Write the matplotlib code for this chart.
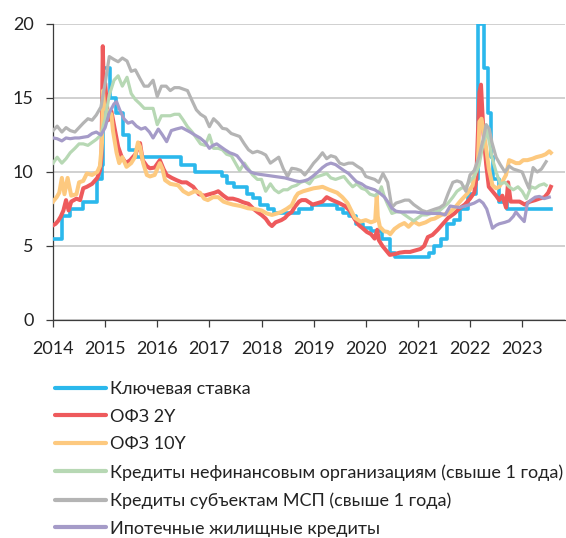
import datetime as dt
import numpy as np
import matplotlib
matplotlib.use("Agg")
import matplotlib.pyplot as plt
from matplotlib.lines import Line2D

plt.rcParams['font.family'] = ['Lato', 'DejaVu Sans']

# ---------------- data ----------------
key_dates = ["2014-01-01", "2014-03-03", "2014-04-28", "2014-07-28", "2014-11-05", "2014-12-12",
             "2014-12-16", "2015-02-02", "2015-03-16", "2015-05-05", "2015-06-16", "2015-08-03",
             "2016-06-14", "2016-09-19", "2017-03-27", "2017-05-02", "2017-06-19", "2017-09-18",
             "2017-10-30", "2017-12-18", "2018-02-12", "2018-03-26", "2018-09-17", "2018-12-17",
             "2019-06-17", "2019-07-29", "2019-09-09", "2019-10-28", "2019-12-16", "2020-02-10",
             "2020-04-27", "2020-06-22", "2020-07-27", "2021-03-22", "2021-04-26", "2021-06-15",
             "2021-07-26", "2021-09-13", "2021-10-25", "2021-12-20", "2022-02-14", "2022-02-28",
             "2022-04-11", "2022-05-04", "2022-05-27", "2022-06-14", "2022-07-25", "2022-09-19",
             "2023-07-20"]
key_rate = [5.5, 7.0, 7.5, 8.0, 9.5, 10.5, 17.0, 15.0, 14.0, 12.5, 11.5, 11.0,
            10.5, 10.0, 9.75, 9.25, 9.0, 8.5, 8.25, 7.75, 7.5, 7.25, 7.5, 7.75,
            7.5, 7.25, 7.0, 6.5, 6.25, 6.0, 5.5, 4.5, 4.25, 4.5, 5.0, 5.5,
            6.5, 6.75, 7.5, 8.5, 9.5, 20.0, 17.0, 14.0, 11.0, 9.5, 8.0, 7.5, 7.5]

ofz2_t = [2014.00, 2014.05, 2014.10, 2014.15, 2014.20, 2014.25, 2014.30, 2014.35, 2014.45, 2014.52,
          2014.58, 2014.65, 2014.75, 2014.85, 2014.90, 2014.93, 2014.955, 2014.965, 2014.98, 2015.00,
          2015.06, 2015.12, 2015.19, 2015.25, 2015.32, 2015.40, 2015.48, 2015.58, 2015.67, 2015.72,
          2015.80, 2015.86, 2015.95, 2016.05, 2016.12, 2016.18, 2016.28, 2016.37, 2016.47, 2016.56,
          2016.69, 2016.80, 2016.90, 2017.00, 2017.10, 2017.17, 2017.27, 2017.35, 2017.45, 2017.55,
          2017.65, 2017.75, 2017.85, 2017.92, 2018.00, 2018.08, 2018.15, 2018.20, 2018.27, 2018.38,
          2018.45, 2018.50, 2018.58, 2018.64, 2018.72, 2018.77, 2018.85, 2018.98, 2019.08, 2019.17,
          2019.25, 2019.36, 2019.49, 2019.60, 2019.69, 2019.79, 2019.87, 2019.94, 2020.02, 2020.10,
          2020.17, 2020.22, 2020.25, 2020.32, 2020.39, 2020.46, 2020.55, 2020.65, 2020.75, 2020.85,
          2020.95, 2021.05, 2021.12, 2021.19, 2021.28, 2021.38, 2021.48, 2021.58, 2021.70, 2021.80,
          2021.90, 2022.00, 2022.08, 2022.12, 2022.15, 2022.18, 2022.21, 2022.23, 2022.26, 2022.31,
          2022.36, 2022.43, 2022.50, 2022.56, 2022.62, 2022.69, 2022.73, 2022.78, 2022.88, 2022.95,
          2023.05, 2023.15, 2023.25, 2023.33, 2023.43, 2023.50, 2023.55]
ofz2_v = [6.4, 6.5, 6.7, 7.0, 7.4, 8.1, 7.4, 8.0, 8.2, 8.1,
          8.9, 9.0, 9.2, 9.6, 10.1, 11.0, 18.5, 17.0, 14.5, 16.0,
          13.5, 14.1, 12.8, 11.7, 11.0, 10.6, 10.8, 11.2, 11.95, 10.8,
          10.4, 10.25, 10.3, 10.8, 10.2, 9.8, 9.6, 9.45, 9.3, 9.3,
          9.0, 8.5, 8.4, 8.5, 8.6, 8.7, 8.4, 8.2, 8.2, 8.1,
          7.95, 7.85, 7.5, 7.3, 7.1, 6.85, 6.5, 6.35, 6.6, 6.75,
          6.9, 7.1, 7.3, 7.65, 8.0, 8.1, 8.1, 7.8, 7.9, 8.0,
          8.3, 8.1, 7.9, 7.7, 7.4, 6.8, 6.4, 6.2, 5.95, 5.8,
          5.5, 6.1, 5.4, 5.0, 4.7, 4.4, 4.45, 4.55, 4.6, 4.6,
          4.7, 4.8, 5.0, 5.6, 5.75, 6.1, 6.5, 6.9, 7.2, 7.55,
          7.8, 8.2, 8.6, 9.5, 12.5, 15.4, 15.9, 14.5, 12.5, 10.5,
          9.0, 8.7, 8.4, 8.1, 8.4, 7.6, 9.3, 8.0, 8.0, 8.0,
          7.8, 8.0, 8.1, 8.2, 8.3, 8.6, 9.0]

ofz10_t = [2014.00, 2014.07, 2014.12, 2014.17, 2014.22, 2014.28, 2014.35, 2014.45, 2014.50, 2014.58,
           2014.65, 2014.75, 2014.85, 2014.90, 2014.94, 2014.96, 2014.98, 2015.03, 2015.09, 2015.12,
           2015.15, 2015.22, 2015.27, 2015.33, 2015.41, 2015.50, 2015.57, 2015.63, 2015.67, 2015.73,
           2015.80, 2015.86, 2015.95, 2016.05, 2016.10, 2016.15, 2016.25, 2016.40, 2016.50, 2016.60,
           2016.72, 2016.82, 2016.90, 2016.97, 2017.07, 2017.17, 2017.27, 2017.35, 2017.45, 2017.60,
           2017.74, 2017.87, 2018.00, 2018.10, 2018.20, 2018.30, 2018.38, 2018.48, 2018.58, 2018.65,
           2018.70, 2018.80, 2018.90, 2019.00, 2019.10, 2019.17, 2019.30, 2019.45, 2019.55, 2019.65,
           2019.72, 2019.79, 2019.90, 2020.00, 2020.10, 2020.18, 2020.21, 2020.23, 2020.27, 2020.35,
           2020.42, 2020.47, 2020.55, 2020.65, 2020.74, 2020.82, 2020.92, 2021.02, 2021.15, 2021.25,
           2021.32, 2021.45, 2021.58, 2021.70, 2021.83, 2021.95, 2022.05, 2022.10, 2022.15, 2022.18,
           2022.22, 2022.27, 2022.31, 2022.36, 2022.43, 2022.50, 2022.56, 2022.62, 2022.69, 2022.75,
           2022.82, 2022.88, 2022.95, 2023.02, 2023.10, 2023.20, 2023.27, 2023.38, 2023.45, 2023.52,
           2023.55]
ofz10_v = [8.0, 8.3, 8.6, 9.6, 8.5, 9.6, 8.4, 8.5, 9.3, 9.4,
           9.9, 9.8, 10.0, 10.4, 12.0, 15.5, 14.5, 14.2, 14.0, 13.9,
           12.8, 11.3, 10.6, 11.0, 10.35, 10.6, 11.0, 12.0, 11.7, 10.6,
           9.8, 9.7, 9.8, 10.6, 10.2, 9.45, 9.2, 9.1, 8.7, 8.5,
           8.7, 8.6, 8.2, 8.1, 8.3, 8.3, 8.0, 7.9, 7.8, 7.7,
           7.55, 7.5, 7.4, 7.2, 7.1, 7.2, 7.3, 7.5, 7.75, 8.3,
           8.55, 8.7, 8.8, 8.9, 8.95, 9.0, 8.8, 8.6, 8.3, 7.9,
           7.4, 6.9, 6.65, 6.75, 6.6, 6.7, 8.4, 7.0, 6.3, 6.0,
           5.95, 5.8, 6.15, 6.4, 6.55, 6.3, 6.65, 6.45, 6.6, 6.8,
           6.85, 7.1, 7.2, 7.55, 8.1, 8.55, 9.1, 10.1, 10.5, 13.4,
           13.6, 12.5, 11.6, 10.25, 9.1, 8.9, 9.0, 9.35, 9.8, 10.8,
           10.7, 10.6, 10.6, 10.8, 10.8, 10.9, 11.0, 11.1, 11.2, 11.4,
           11.3]

corp_t = [2014.00, 2014.08, 2014.17, 2014.25, 2014.33, 2014.42, 2014.50, 2014.58, 2014.67, 2014.75,
          2014.83, 2014.92, 2015.00, 2015.08, 2015.17, 2015.25, 2015.33, 2015.42, 2015.50, 2015.58,
          2015.67, 2015.75, 2015.83, 2015.92, 2016.00, 2016.08, 2016.17, 2016.25, 2016.33, 2016.42,
          2016.50, 2016.58, 2016.67, 2016.75, 2016.83, 2016.92, 2017.00, 2017.08, 2017.17, 2017.25,
          2017.33, 2017.42, 2017.50, 2017.58, 2017.67, 2017.75, 2017.83, 2017.92, 2018.00, 2018.08,
          2018.17, 2018.25, 2018.33, 2018.42, 2018.50, 2018.58, 2018.67, 2018.75, 2018.83, 2018.92,
          2019.00, 2019.08, 2019.17, 2019.25, 2019.33, 2019.42, 2019.50, 2019.58, 2019.67, 2019.75,
          2019.83, 2019.92, 2020.00, 2020.08, 2020.17, 2020.25, 2020.30, 2020.36, 2020.42, 2020.50,
          2020.58, 2020.67, 2020.75, 2020.83, 2020.92, 2021.00, 2021.08, 2021.17, 2021.25, 2021.33,
          2021.42, 2021.50, 2021.58, 2021.67, 2021.75, 2021.83, 2021.92, 2022.00, 2022.08, 2022.17,
          2022.25, 2022.33, 2022.42, 2022.50, 2022.58, 2022.67, 2022.75, 2022.83, 2022.92, 2023.00,
          2023.08, 2023.17, 2023.25, 2023.33, 2023.42, 2023.46]
corp_v = [10.6, 11.0, 10.6, 10.9, 11.3, 11.6, 11.9, 11.9, 11.8, 12.0,
          12.2, 12.5, 13.6, 15.2, 16.2, 16.5, 15.8, 16.4, 15.3, 14.9,
          14.6, 14.3, 14.3, 14.3, 13.2, 13.8, 13.8, 13.8, 13.9, 13.9,
          13.5, 13.06, 12.7, 12.3, 11.9, 11.8, 12.5, 11.6, 11.6, 11.5,
          11.2, 11.1, 10.6, 10.1, 10.6, 10.2, 9.8, 9.5, 9.5, 8.7,
          9.2, 8.8, 8.6, 8.8, 8.8, 9.0, 9.1, 9.3, 9.4, 9.2,
          9.6, 9.7, 9.8, 9.9, 9.6, 9.5, 9.6, 9.7, 9.3, 9.0,
          9.2, 8.9, 8.8, 8.5, 8.4, 8.6, 9.0, 8.3, 7.8, 7.2,
          7.3, 7.3, 7.1, 6.9, 6.7, 6.9, 7.1, 7.1, 7.2, 7.3,
          7.4, 7.65, 7.9, 8.3, 8.7, 8.9, 9.0, 9.4, 9.7, 10.4,
          11.9, 12.8, 11.0, 10.0, 9.2, 9.3, 9.0, 8.8, 9.0, 8.7,
          8.2, 9.0, 8.9, 9.1, 9.2, 9.1]

sme_t = [2014.00, 2014.08, 2014.17, 2014.25, 2014.33, 2014.42, 2014.50, 2014.58, 2014.67, 2014.75,
         2014.83, 2014.92, 2015.00, 2015.08, 2015.17, 2015.25, 2015.33, 2015.42, 2015.50, 2015.58,
         2015.67, 2015.75, 2015.83, 2015.92, 2016.00, 2016.08, 2016.17, 2016.25, 2016.33, 2016.42,
         2016.50, 2016.58, 2016.67, 2016.75, 2016.83, 2016.92, 2017.00, 2017.08, 2017.17, 2017.25,
         2017.33, 2017.42, 2017.50, 2017.58, 2017.67, 2017.75, 2017.83, 2017.92, 2018.00, 2018.08,
         2018.17, 2018.25, 2018.33, 2018.42, 2018.50, 2018.58, 2018.67, 2018.75, 2018.83, 2018.92,
         2019.00, 2019.08, 2019.17, 2019.25, 2019.33, 2019.42, 2019.50, 2019.58, 2019.67, 2019.75,
         2019.83, 2019.92, 2020.00, 2020.08, 2020.17, 2020.25, 2020.33, 2020.42, 2020.50, 2020.58,
         2020.67, 2020.75, 2020.83, 2020.92, 2021.00, 2021.08, 2021.17, 2021.25, 2021.33, 2021.42,
         2021.50, 2021.58, 2021.67, 2021.75, 2021.83, 2021.92, 2022.00, 2022.08, 2022.17, 2022.25,
         2022.31, 2022.37, 2022.42, 2022.50, 2022.58, 2022.67, 2022.75, 2022.83, 2022.92, 2023.00,
         2023.08, 2023.13, 2023.21, 2023.29, 2023.37, 2023.46]
sme_v = [12.8, 13.1, 12.7, 13.0, 12.8, 12.7, 13.0, 13.3, 13.6, 13.5,
         13.85, 14.4, 16.0, 17.8, 17.6, 17.45, 17.7, 17.5, 16.8, 16.9,
         16.3, 15.8, 15.8, 16.2, 15.1, 15.8, 15.8, 15.5, 15.7, 15.7,
         15.6, 15.5, 14.8, 14.2, 13.9, 13.7, 13.06, 13.6, 13.3, 12.95,
         12.9, 12.6, 12.5, 12.4, 11.9, 11.5, 11.3, 11.4, 11.3, 11.15,
         10.6, 10.8, 11.0, 10.2, 9.7, 10.25, 10.2, 10.1, 9.8, 10.2,
         10.6, 10.9, 11.3, 10.9, 11.1, 11.0, 10.6, 10.5, 10.6, 10.6,
         10.4, 10.2, 9.7, 9.6, 9.5, 9.3, 9.9, 9.3, 7.6, 7.9,
         8.0, 8.1, 8.1, 7.8, 7.6, 7.4, 7.3, 7.4, 7.5, 7.6,
         7.8, 8.55, 9.3, 9.4, 9.3, 8.7, 9.8, 10.1, 11.0, 12.2,
         13.2, 12.9, 12.0, 11.0, 10.5, 10.0, 10.4, 10.2, 10.1, 10.0,
         9.3, 8.9, 10.3, 10.0, 10.2, 10.7]

mort_t = [2014.00, 2014.08, 2014.17, 2014.25, 2014.33, 2014.42, 2014.50, 2014.58, 2014.67, 2014.75,
          2014.83, 2014.92, 2015.00, 2015.08, 2015.17, 2015.22, 2015.28, 2015.36, 2015.44, 2015.52,
          2015.60, 2015.69, 2015.77, 2015.85, 2015.92, 2016.02, 2016.10, 2016.18, 2016.27, 2016.36,
          2016.47, 2016.55, 2016.63, 2016.72, 2016.82, 2016.92, 2017.00, 2017.07, 2017.14, 2017.22,
          2017.30, 2017.39, 2017.47, 2017.53, 2017.62, 2017.71, 2017.79, 2017.87, 2017.95, 2018.05,
          2018.15, 2018.25, 2018.35, 2018.45, 2018.55, 2018.65, 2018.73, 2018.82, 2018.90, 2018.98,
          2019.08, 2019.17, 2019.25, 2019.33, 2019.42, 2019.50, 2019.58, 2019.67, 2019.75, 2019.82,
          2019.92, 2020.00, 2020.08, 2020.17, 2020.26, 2020.36, 2020.44, 2020.50, 2020.58, 2020.67,
          2020.80, 2020.95, 2021.05, 2021.18, 2021.30, 2021.43, 2021.52, 2021.57, 2021.62, 2021.70,
          2021.80, 2021.90, 2022.00, 2022.08, 2022.18, 2022.25, 2022.32, 2022.38, 2022.43, 2022.50,
          2022.56, 2022.67, 2022.75, 2022.83, 2022.88, 2022.95, 2023.04, 2023.10, 2023.17, 2023.25,
          2023.33, 2023.42, 2023.52]
mort_v = [12.3, 12.25, 12.1, 12.3, 12.25, 12.3, 12.3, 12.35, 12.4, 12.6,
          12.7, 12.5, 13.0, 14.0, 14.6, 14.75, 14.2, 13.6, 13.3, 13.4,
          13.1, 12.9, 13.0, 12.7, 12.3, 12.9, 12.5, 12.05, 12.8, 12.9,
          13.0, 12.85, 12.7, 12.5, 12.3, 12.0, 11.6, 11.8, 11.9, 11.7,
          11.5, 11.3, 11.2, 11.1, 10.7, 10.25, 10.0, 9.9, 9.85, 9.8,
          9.75, 9.7, 9.65, 9.6, 9.5, 9.4, 9.35, 9.4, 9.5, 9.7,
          10.0, 10.3, 10.5, 10.6, 10.5, 10.3, 10.1, 9.9, 9.6, 9.35,
          9.2, 9.0, 8.9, 8.8, 8.6, 8.3, 7.9, 7.55, 7.35, 7.3,
          7.3, 7.3, 7.25, 7.2, 7.2, 7.2, 7.1, 7.4, 7.7, 7.65,
          7.6, 7.7, 7.8, 7.9, 8.1, 7.9, 7.5, 6.8, 6.2, 6.4,
          6.5, 6.6, 6.7, 7.0, 7.3, 7.0, 6.65, 7.9, 8.1, 8.3,
          8.35, 8.2, 8.3]

labels = ["Ключевая ставка", "ОФЗ 2Y", "ОФЗ 10Y",
          "Кредиты нефинансовым организациям (свыше 1 года)",
          "Кредиты субъектам МСП (свыше 1 года)",
          "Ипотечные жилищные кредиты"]
colors = ["#2bb8ec", "#ee5a5c", "#fdc97f", "#b7d8b4", "#b4b4b4", "#a59bc8"]
year_ticks = list(range(2014, 2024))
y_ticks = [0, 5, 10, 15, 20]


def to_year(s):
    d = dt.date.fromisoformat(s)
    start = dt.date(d.year, 1, 1)
    end = dt.date(d.year + 1, 1, 1)
    return d.year + (d - start).days / (end - start).days


key_t = [to_year(s) for s in key_dates]

# ---------------- figure ----------------
fig = plt.figure(figsize=(5.66, 5.38), dpi=100)
ax = fig.add_axes([53 / 566, 1 - 320 / 538, 1 - 53 / 566 - 0.001, (320 - 24) / 538])

ax.plot(key_t, key_rate, drawstyle="steps-post", color=colors[0], lw=2.6, zorder=3)
ax.plot(ofz2_t, ofz2_v, color=colors[1], lw=2.9, zorder=3)
ax.plot(ofz10_t, ofz10_v, color=colors[2], lw=2.9, zorder=3)
ax.plot(corp_t, corp_v, color=colors[3], lw=2.3, zorder=3)
ax.plot(sme_t, sme_v, color=colors[4], lw=2.3, zorder=3)
ax.plot(mort_t, mort_v, color=colors[5], lw=2.3, zorder=3)

ax.set_xlim(2014, 2023.83)
ax.set_ylim(0, 20)
ax.set_xticks(year_ticks)
ax.set_xticklabels([str(y) for y in year_ticks])
ax.set_yticks(y_ticks)
ax.set_yticklabels([str(v) for v in y_ticks])
ax.yaxis.grid(True, color="#c8c8c8", lw=1.2)
ax.set_axisbelow(True)
for s in ["top", "right"]:
    ax.spines[s].set_visible(False)
for s in ["left", "bottom"]:
    ax.spines[s].set_color("#3c3c3c")
    ax.spines[s].set_linewidth(0.9)
ax.tick_params(axis="both", colors="#3c3c3c", length=5, width=0.9, labelsize=13,
               labelcolor="#222222", pad=9)
ax.tick_params(axis="x", pad=10)

handles = [Line2D([], [], color=c, lw=3, solid_capstyle="round") for c in colors]
fig.legend(handles, labels, loc="upper left", bbox_to_anchor=(55 / 566, 1 - 381 / 538),
           frameon=False, fontsize=13, handlelength=2.8, handletextpad=0.25,
           labelspacing=0.65, borderpad=0, borderaxespad=0, labelcolor="#222222")

fig.savefig("out.png", dpi=100)
